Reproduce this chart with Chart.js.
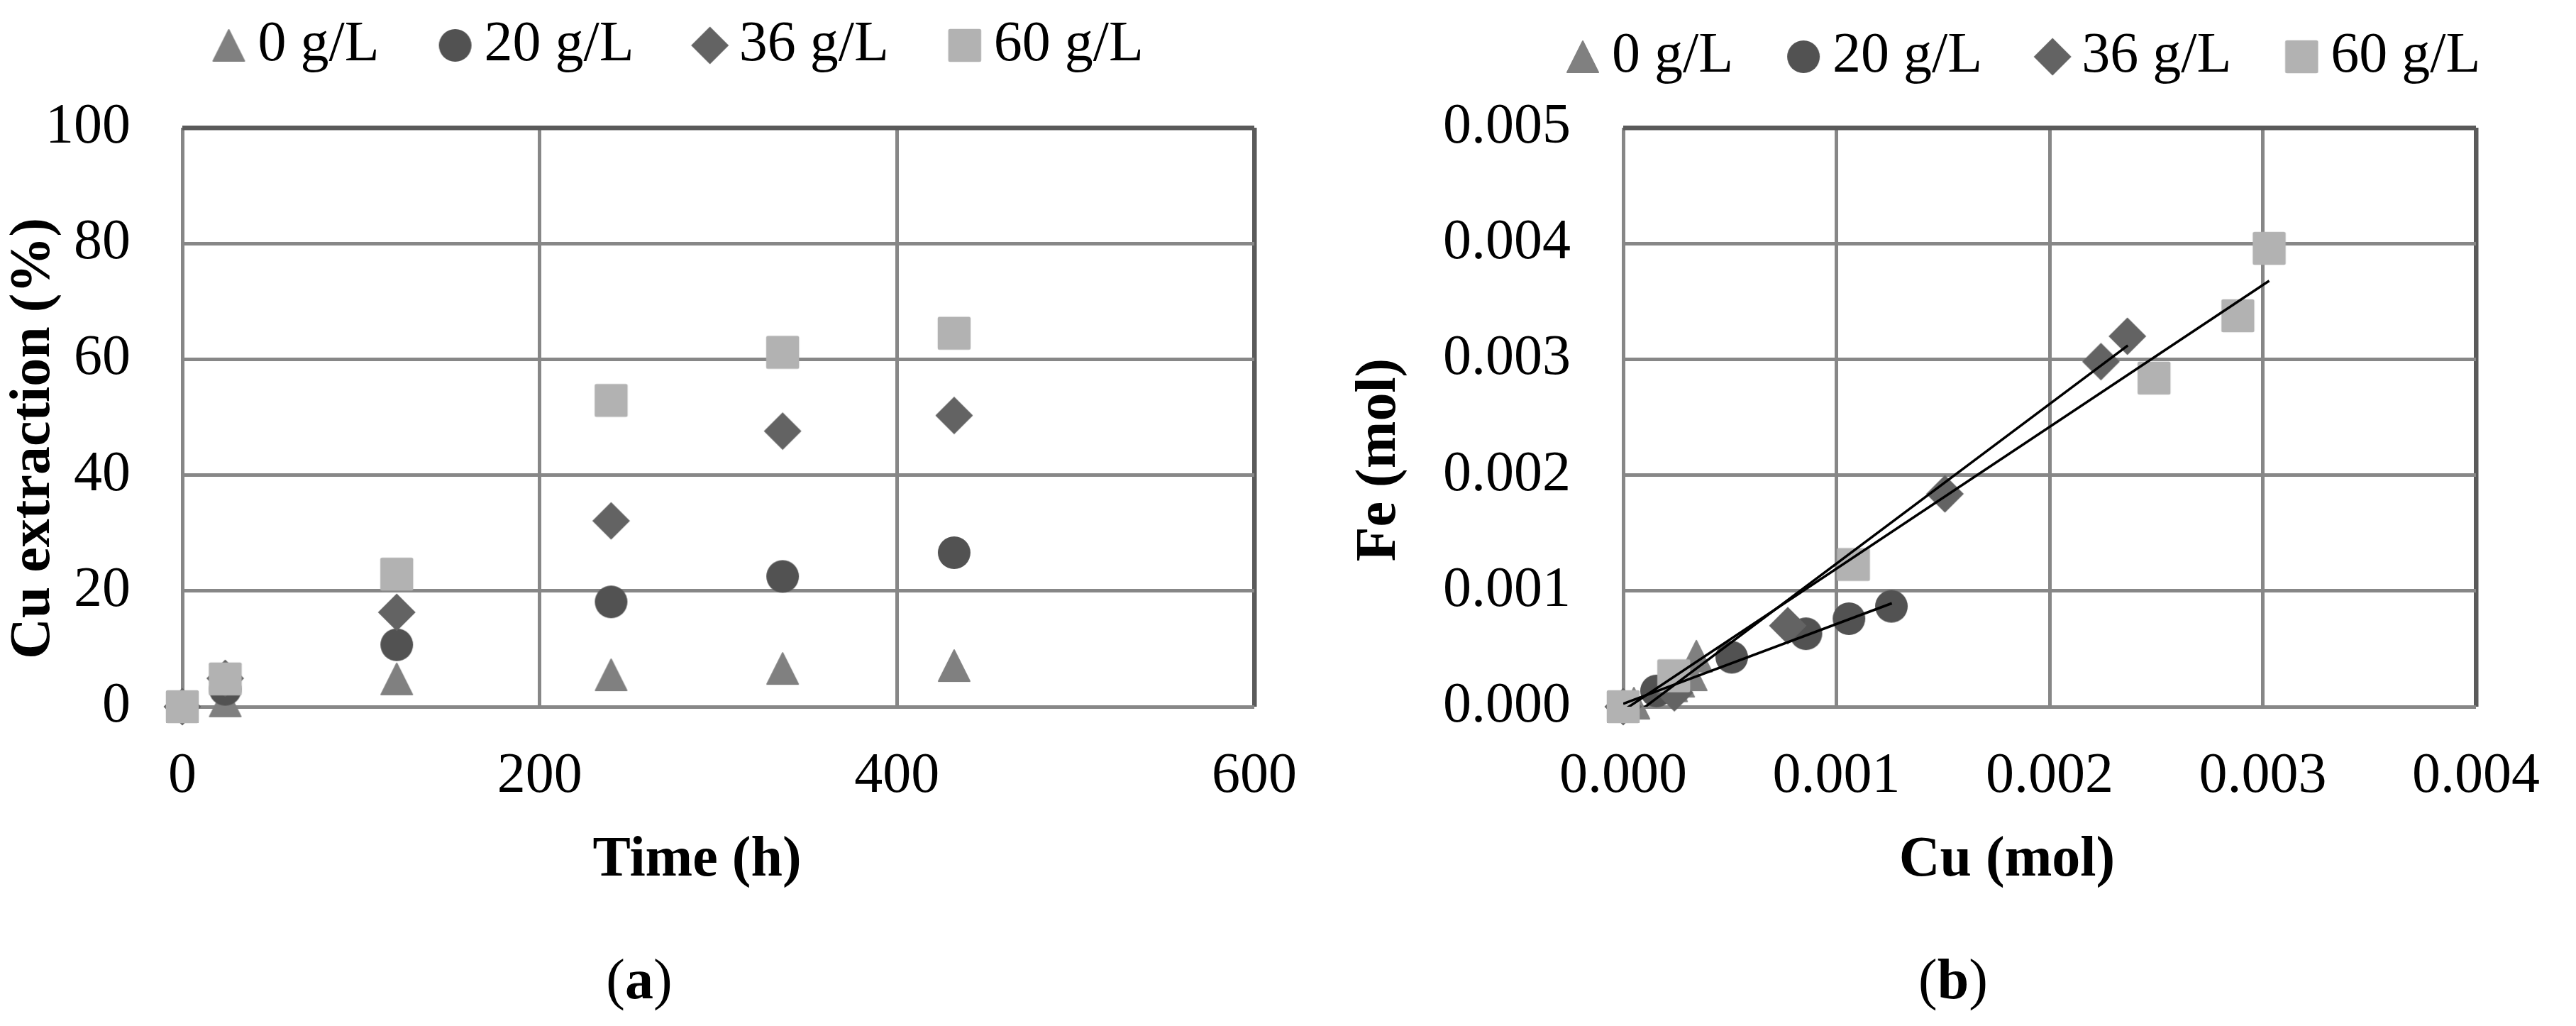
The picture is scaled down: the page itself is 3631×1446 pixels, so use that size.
<!DOCTYPE html>
<html><head><meta charset="utf-8">
<script src="https://cdn.jsdelivr.net/npm/chart.js@4.4.0/dist/chart.umd.min.js"></script>
<style>
html,body{margin:0;padding:0;background:#fff;width:3631px;height:1446px;overflow:hidden;position:relative;}
#ca{position:absolute;left:0;top:0;}
#cb{position:absolute;left:1880px;top:0;}
.cap{position:absolute;font-family:'Liberation Serif',serif;font-size:80px;color:#000;line-height:1;transform:translateX(-50%);white-space:nowrap;}
</style></head><body>
<canvas id="ca" width="1880" height="1446"></canvas>
<canvas id="cb" width="1751" height="1446"></canvas>
<div class="cap" style="left:901px;top:1340px;">(<b>a</b>)</div>
<div class="cap" style="left:2753px;top:1340px;">(<b>b</b>)</div>
<script>
// ================= DATA =================
const seriesLabels = ['0 g/L', '20 g/L', '36 g/L', '60 g/L'];

// (a) Cu extraction (%) vs time (h)
const timeH   = [0, 24, 120, 240, 336, 432];
const cuExt0  = [0, 1.0, 4.8, 5.5, 6.6, 7.1];
const cuExt20 = [0, 3.0, 10.7, 18.1, 22.5, 26.6];
const cuExt36 = [0, 4.9, 16.3, 32.1, 47.6, 50.3];
const cuExt60 = [0, 4.8, 22.9, 52.9, 61.2, 64.5];
const timeTicks = [0, 200, 400, 600];
const extTicks  = [0, 20, 40, 60, 80, 100];

// (b) Fe (mol) vs Cu (mol)
const cuMol0  = [0, 0.00005, 0.000227, 0.00026, 0.000319, 0.000343];
const feMol0  = [0, 0.00003, 0.00018, 0.00022, 0.000275, 0.000436];
const cuMol20 = [0, 0.000156, 0.000509, 0.000857, 0.001059, 0.001258];
const feMol20 = [0, 0.000136, 0.000427, 0.00063, 0.00076, 0.000867];
const cuMol36 = [0, 0.00024, 0.000772, 0.001509, 0.002241, 0.002365];
const feMol36 = [0, 0.00012, 0.0007, 0.001838, 0.00298, 0.003199];
const cuMol60 = [0, 0.000237, 0.00108, 0.00249, 0.002883, 0.00303];
const feMol60 = [0, 0.000267, 0.001228, 0.002838, 0.003376, 0.003958];
// linear trend lines (end points)
const trendCu20 = [0, 0.00126];
const trendFe20 = [0.000026, 0.000893];
const trendCu36 = [0, 0.002367];
const trendFe36 = [-0.000143, 0.00312];
const trendCu60 = [0, 0.00303];
const trendFe60 = [-0.000033, 0.003678];
const cuTicks = [0, 0.001, 0.002, 0.003, 0.004];
const feTicks = [0, 0.001, 0.002, 0.003, 0.004, 0.005];

// ================= STYLE =================
const FONT = 'Liberation Serif';
Chart.defaults.font.family = FONT;
Chart.defaults.color = '#000';
const markerColors = ['#808080', '#525252', '#636363', '#b2b2b2'];
const markerShapes = ['triangle', 'circle', 'diamond', 'square'];
const GRID = '#878787', FRAME = '#5a5a5a';

function markerCanvas(shape, color, shift) {
  const half = 28;
  const w = 2 * (half + Math.abs(shift)), h = 2 * half;
  const c = document.createElement('canvas');
  c.width = w; c.height = h;
  const g = c.getContext('2d');
  g.fillStyle = color; g.strokeStyle = color; g.lineJoin = 'round'; g.lineWidth = 2;
  const cx = w / 2 + shift, cy = h / 2;
  g.beginPath();
  if (shape === 'circle') g.arc(cx, cy, 23, 0, 2 * Math.PI);
  else if (shape === 'square') g.roundRect(cx - 23.25, cy - 23.25, 46.5, 46.5, 2.5);
  else if (shape === 'diamond') { g.moveTo(cx, cy - 26.5); g.lineTo(cx + 26.5, cy); g.lineTo(cx, cy + 26.5); g.lineTo(cx - 26.5, cy); g.closePath(); }
  else { g.moveTo(cx, cy - 22); g.lineTo(cx + 22, cy + 22); g.lineTo(cx - 22, cy + 22); g.closePath(); g.stroke(); }
  g.fill();
  return c;
}
const pointImgs = markerShapes.map((s, i) => markerCanvas(s, markerColors[i], 0));
const LEG_BOX = 98;
const legendImgs = markerShapes.map((s, i) => markerCanvas(s, markerColors[i], LEG_BOX / 2 - 1));

const pts = (xs, ys) => xs.map((x, i) => ({x, y: ys[i]}));

const legendPlace = {
  id: 'legendPlace',
  afterLayout(chart, args, opts) {
    const L = chart.legend; if (!L) return;
    const P = L.options.labels.padding;
    const dx = opts.itemsLeft - P - L.left;
    const dy = opts.itemsTop - P - L.top;
    L.left += dx; L.right += dx; L.top += dy; L.bottom += dy;
  }
};

function legendOpts(padding) {
  return {
    display: true, position: 'top', align: 'start',
    labels: {
      usePointStyle: true, pointStyleWidth: LEG_BOX, padding: padding,
      font: {family: FONT, size: 80}, color: '#000',
      generateLabels(chart) {
        const items = Chart.defaults.plugins.legend.labels.generateLabels(chart);
        items.forEach(it => { it.pointStyle = legendImgs[it.datasetIndex] || it.pointStyle; });
        return items;
      },
      filter: it => it.datasetIndex < 4,
      sort: (a, b) => a.datasetIndex - b.datasetIndex
    }
  };
}

function gridOpts(lastVal) {
  return {
    display: true, drawTicks: false,
    color: c => (Math.abs(c.tick.value - lastVal) < 1e-12 ? FRAME : GRID),
    lineWidth: c => (Math.abs(c.tick.value - lastVal) < 1e-12 ? 6.5 : 5)
  };
}

function markerDatasets(xsList, ysList) {
  return seriesLabels.map((lab, i) => ({
    label: lab,
    data: pts(xsList[i], ysList[i]),
    pointStyle: pointImgs[i],
    pointRadius: 23, pointHoverRadius: 23,
    backgroundColor: markerColors[i], borderColor: markerColors[i],
    showLine: false, clip: false,
    order: 4 - i
  }));
}

// ================= CHART (a) =================
new Chart(document.getElementById('ca'), {
  type: 'scatter',
  data: {
    datasets: markerDatasets([timeH, timeH, timeH, timeH], [cuExt0, cuExt20, cuExt36, cuExt60])
  },
  options: {
    responsive: false, animation: false, devicePixelRatio: 1, events: [],
    layout: {padding: {left: 0, right: 112, top: 80, bottom: 0}},
    plugins: {
      legend: legendOpts(10),
      legendPlace: {itemsLeft: 225.5, itemsTop: 24},
      tooltip: {enabled: false}
    },
    scales: {
      x: {
        type: 'linear', min: timeTicks[0], max: timeTicks[timeTicks.length - 1],
        afterBuildTicks: s => { s.ticks = timeTicks.map(v => ({value: v})); },
        afterFit: s => { s.height = 450; },
        grid: gridOpts(timeTicks[timeTicks.length - 1]),
        border: {display: false},
        ticks: {font: {family: FONT, size: 80}, color: '#000', padding: 51, maxRotation: 0},
        title: {display: true, text: 'Time (h)   ', font: {family: FONT, size: 80, weight: 'bold'}, color: '#000', padding: {top: 0, bottom: 185}}
      },
      y: {
        type: 'linear', min: extTicks[0], max: extTicks[extTicks.length - 1],
        afterBuildTicks: s => { s.ticks = extTicks.map(v => ({value: v})); },
        afterFit: s => { s.width = 257; },
        grid: gridOpts(extTicks[extTicks.length - 1]),
        border: {display: false},
        ticks: {font: {family: FONT, size: 80}, color: '#000', padding: 73},
        title: {display: true, text: 'Cu extraction (%)   ', font: {family: FONT, size: 80, weight: 'bold'}, color: '#000', padding: {top: 0, bottom: 0}}
      }
    }
  },
  plugins: [legendPlace]
});

// ================= CHART (b) =================
const dsB = markerDatasets([cuMol0, cuMol20, cuMol36, cuMol60], [feMol0, feMol20, feMol36, feMol60]);
[[trendCu20, trendFe20], [trendCu36, trendFe36], [trendCu60, trendFe60]].forEach((t, k) => {
  dsB.push({
    label: 'trend ' + seriesLabels[k + 1],
    data: pts(t[0], t[1]),
    showLine: true, pointRadius: 0, pointHoverRadius: 0,
    borderColor: '#000', backgroundColor: '#000', borderWidth: 3.5,
    clip: 0, order: 0
  });
});
new Chart(document.getElementById('cb'), {
  type: 'scatter',
  data: {datasets: dsB},
  options: {
    responsive: false, animation: false, devicePixelRatio: 1, events: [],
    layout: {padding: {left: 0, right: 123, top: 88, bottom: 0}},
    plugins: {
      legend: legendOpts(2),
      legendPlace: {itemsLeft: 254, itemsTop: 40},
      tooltip: {enabled: false}
    },
    scales: {
      x: {
        type: 'linear', min: cuTicks[0], max: cuTicks[cuTicks.length - 1],
        afterBuildTicks: s => { s.ticks = cuTicks.map(v => ({value: v})); },
        afterFit: s => { s.height = 450; },
        grid: gridOpts(cuTicks[cuTicks.length - 1]),
        border: {display: false},
        ticks: {font: {family: FONT, size: 80}, color: '#000', padding: 51, maxRotation: 0, callback: v => Number(v).toFixed(3)},
        title: {display: true, text: 'Cu (mol)      ', font: {family: FONT, size: 80, weight: 'bold'}, color: '#000', padding: {top: 0, bottom: 185}}
      },
      y: {
        type: 'linear', min: feTicks[0], max: feTicks[feTicks.length - 1],
        afterBuildTicks: s => { s.ticks = feTicks.map(v => ({value: v})); },
        afterFit: s => { s.width = 408; },
        grid: gridOpts(feTicks[feTicks.length - 1]),
        border: {display: false},
        ticks: {font: {family: FONT, size: 80}, color: '#000', padding: 74, callback: v => Number(v).toFixed(3)},
        title: {display: true, text: 'Fe (mol)      ', font: {family: FONT, size: 80, weight: 'bold'}, color: '#000', padding: {top: 17, bottom: 17}}
      }
    }
  },
  plugins: [legendPlace]
});
</script>
</body></html>
